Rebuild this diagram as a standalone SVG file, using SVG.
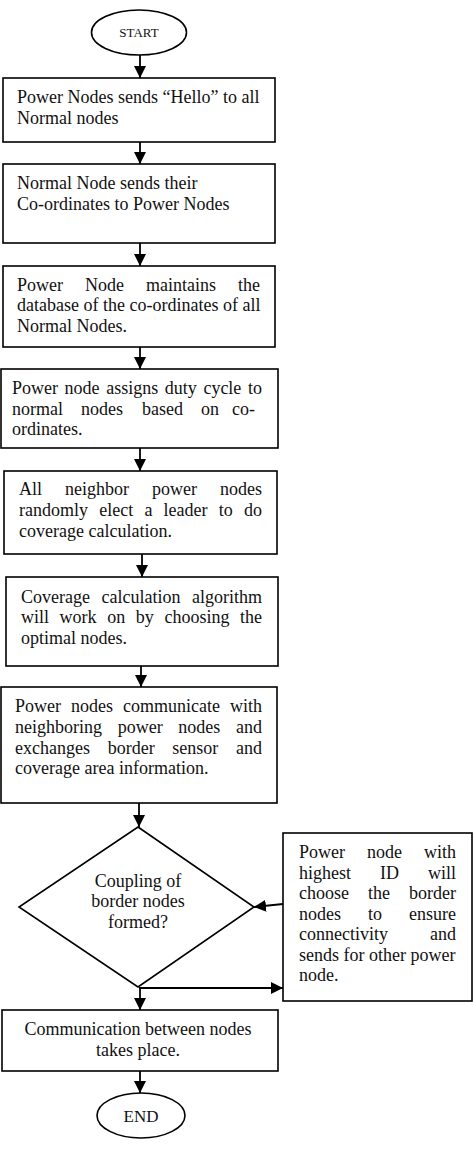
<svg xmlns="http://www.w3.org/2000/svg" width="473" height="1152" viewBox="0 0 473 1152">
<style>
.b{fill:#fff;stroke:#000;stroke-width:1.6}
.t{font-family:"Liberation Serif","Times New Roman",serif;font-size:18px;fill:#111}
.c{text-anchor:middle}
.e{text-anchor:end}
.l{stroke:#000;stroke-width:1.8;fill:none}
</style>
<defs>
<marker id="ah" viewBox="0 0 12 12" refX="12" refY="6" markerWidth="12" markerHeight="12" markerUnits="userSpaceOnUse" orient="auto">
<path d="M0,0 L12,6 L0,12 z" fill="#000"/>
</marker>
</defs>
<rect width="473" height="1152" fill="#fff"/>
<g id="connectors">
<line class="l" x1="140" y1="55" x2="140" y2="78" marker-end="url(#ah)"/>
<line class="l" x1="140" y1="142" x2="140" y2="164" marker-end="url(#ah)"/>
<line class="l" x1="140" y1="243" x2="140" y2="266" marker-end="url(#ah)"/>
<line class="l" x1="140" y1="347" x2="140" y2="369" marker-end="url(#ah)"/>
<line class="l" x1="140" y1="448" x2="140" y2="471" marker-end="url(#ah)"/>
<line class="l" x1="142" y1="554" x2="142" y2="577" marker-end="url(#ah)"/>
<line class="l" x1="141" y1="666" x2="141" y2="687" marker-end="url(#ah)"/>
<line class="l" x1="139" y1="803" x2="139" y2="827" marker-end="url(#ah)"/>
<line class="l" x1="140" y1="988" x2="140" y2="1010" marker-end="url(#ah)"/>
<line class="l" x1="140" y1="1071" x2="140" y2="1093" marker-end="url(#ah)"/>
<line class="l" x1="283" y1="904" x2="254" y2="907" marker-end="url(#ah)"/>
<line class="l" x1="139" y1="988" x2="283" y2="988" marker-end="url(#ah)"/>
</g>
<g id="start">
<ellipse class="b" cx="139" cy="32.5" rx="47.5" ry="22.5"/>
<text class="t c" x="139" y="37" style="font-size:13px">START</text>
</g>
<g id="n1">
<rect class="b" x="3" y="78" width="272" height="64"/>
<text class="t" x="17" y="103">Power Nodes sends “Hello” to all</text>
<text class="t" x="17" y="124">Normal nodes</text>
</g>
<g id="n2">
<rect class="b" x="3" y="164" width="272" height="79"/>
<text class="t" x="17" y="189">Normal Node sends their</text>
<text class="t" x="17" y="210">Co-ordinates to Power Nodes</text>
</g>
<g id="n3">
<rect class="b" x="3" y="266" width="272" height="81"/>
<text class="t" y="291"><tspan x="17">Power</tspan><tspan x="85">Node</tspan><tspan x="146">maintains</tspan></text>
<text class="t e" x="260" y="291">the</text>
<text class="t" x="17" y="311">database of the co-ordinates of all</text>
<text class="t" x="17" y="332">Normal Nodes.</text>
</g>
<g id="n4">
<rect class="b" x="1" y="369" width="277" height="79"/>
<text class="t" y="394"><tspan x="12">Power</tspan><tspan x="64.6">node</tspan><tspan x="106.2">assigns</tspan><tspan x="164.8">duty</tspan><tspan x="203.4">cycle</tspan></text>
<text class="t e" x="262" y="394">to</text>
<text class="t" y="415"><tspan x="12">normal</tspan><tspan x="81">nodes</tspan><tspan x="142">based</tspan><tspan x="201">on</tspan></text>
<text class="t e" x="255" y="415">co-</text>
<text class="t" x="12" y="435">ordinates.</text>
</g>
<g id="n5">
<rect class="b" x="4" y="471" width="273" height="83"/>
<text class="t" y="495"><tspan x="19">All</tspan><tspan x="65">neighbor</tspan><tspan x="152">power</tspan></text>
<text class="t e" x="262" y="495">nodes</text>
<text class="t" y="516"><tspan x="19">randomly</tspan><tspan x="99.2">elect</tspan><tspan x="144.4">a</tspan><tspan x="163.6">leader</tspan><tspan x="218.8">to</tspan></text>
<text class="t e" x="262" y="516">do</text>
<text class="t" x="19" y="537">coverage calculation.</text>
</g>
<g id="n6">
<rect class="b" x="6" y="577" width="272" height="89"/>
<text class="t" y="603"><tspan x="21">Coverage</tspan><tspan x="101.5">calculation</tspan></text>
<text class="t e" x="262" y="603">algorithm</text>
<text class="t" y="623"><tspan x="21">will</tspan><tspan x="59.6">work</tspan><tspan x="107.2">on</tspan><tspan x="135.8">by</tspan><tspan x="164.4">choosing</tspan></text>
<text class="t e" x="262" y="623">the</text>
<text class="t" x="21" y="644">optimal nodes.</text>
</g>
<g id="n7">
<rect class="b" x="1" y="687" width="276" height="116"/>
<text class="t" y="712"><tspan x="15">Power</tspan><tspan x="71">nodes</tspan><tspan x="123">communicate</tspan></text>
<text class="t e" x="262" y="712">with</text>
<text class="t" y="733"><tspan x="15">neighboring</tspan><tspan x="117.7">power</tspan><tspan x="178.3">nodes</tspan></text>
<text class="t e" x="262" y="733">and</text>
<text class="t" y="754"><tspan x="15">exchanges</tspan><tspan x="107.7">border</tspan><tspan x="172.3">sensor</tspan></text>
<text class="t e" x="262" y="754">and</text>
<text class="t" x="15" y="774">coverage area information.</text>
</g>
<g id="decision">
<polygon class="b" points="138,827 254,907 138,987 19,907"/>
<text class="t c" x="138" y="887">Coupling of</text>
<text class="t c" x="138" y="907">border nodes</text>
<text class="t c" x="138" y="928">formed?</text>
</g>
<g id="side">
<rect class="b" x="283" y="833" width="189" height="168"/>
<text class="t" y="858"><tspan x="299">Power</tspan><tspan x="367">node</tspan></text>
<text class="t e" x="456" y="858">with</text>
<text class="t" y="879"><tspan x="299">highest</tspan><tspan x="380">ID</tspan></text>
<text class="t e" x="456" y="879">will</text>
<text class="t" y="899"><tspan x="299">choose</tspan><tspan x="368">the</tspan></text>
<text class="t e" x="456" y="899">border</text>
<text class="t" y="920"><tspan x="299">nodes</tspan><tspan x="368">to</tspan></text>
<text class="t e" x="456" y="920">ensure</text>
<text class="t" x="299" y="940">connectivity</text>
<text class="t e" x="456" y="940">and</text>
<text class="t" x="299" y="961">sends for other power</text>
<text class="t" x="299" y="981">node.</text>
</g>
<g id="n8">
<rect class="b" x="2" y="1010" width="276" height="61"/>
<text class="t c" x="138" y="1035">Communication between nodes</text>
<text class="t c" x="138" y="1056">takes place.</text>
</g>
<g id="end">
<ellipse class="b" cx="141" cy="1115.5" rx="44" ry="22.5"/>
<text class="t c" x="141" y="1122" style="font-size:17px">END</text>
</g>
</svg>
